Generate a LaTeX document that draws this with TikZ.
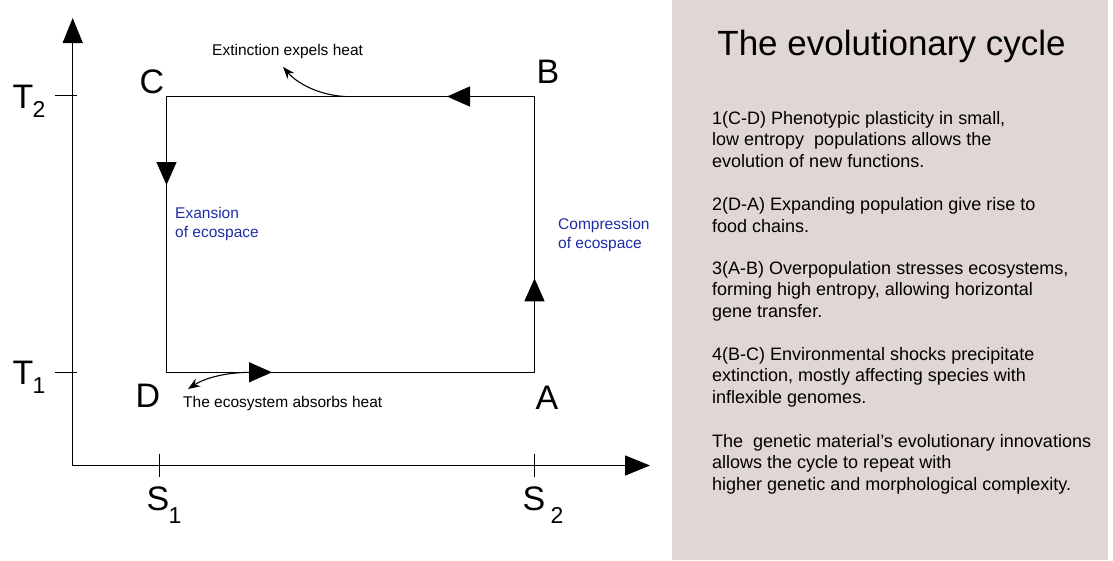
\documentclass[tikz,border=0pt]{standalone}
\usepackage{fontspec}
\setmainfont{Liberation Sans}
\usetikzlibrary{arrows.meta}
\definecolor{panel}{RGB}{224,214,211}
\definecolor{ecoblue}{RGB}{30,45,165}
\tikzset{
  axisline/.style={line width=1.3pt, -{Triangle[length=25pt,width=20pt]}},
  edgeline/.style={line width=1.3pt},
  midarrow/.style={line width=1.3pt, -{Triangle[length=23pt,width=20pt]}},
  heatarrow/.style={line width=1.1pt, -{Stealth[length=12pt,width=9pt]}},
  tickline/.style={line width=1pt},
  bigletter/.style={font=\fontsize{34}{34}\selectfont, inner sep=0pt, anchor=base},
  subletter/.style={font=\fontsize{23}{23}\selectfont, inner sep=0pt, anchor=base},
  smalllabel/.style={font=\fontsize{15.5}{19}\selectfont, inner sep=0pt, anchor=base west, align=left},
  bluelabel/.style={smalllabel, text=ecoblue},
  paratext/.style={font=\fontsize{18}{21.3}\selectfont, inner sep=0pt, anchor=base west, align=left},
}
\begin{document}
\begin{tikzpicture}[x=1pt,y=-1pt]
\useasboundingbox (0,0) rectangle (1113,560);
\fill[panel] (672,0) rectangle (1108,560);

% axes
\coordinate (O) at (72.7,465.5);
\coordinate (Ytip) at (72.7,18);
\coordinate (Xtip) at (650,465.5);
\draw[axisline] (O) -- (Ytip);
\draw[axisline] (O) -- (Xtip);

% ticks
\coordinate (t2a) at (55,95.5); \coordinate (t2b) at (77,95.5);
\coordinate (t1a) at (55,372); \coordinate (t1b) at (77,372);
\coordinate (s1a) at (159,454); \coordinate (s1b) at (159,477);
\coordinate (s2a) at (534,454); \coordinate (s2b) at (534,477);
\draw[tickline] (t2a) -- (t2b);
\draw[tickline] (t1a) -- (t1b);
\draw[tickline] (s1a) -- (s1b);
\draw[tickline] (s2a) -- (s2b);

% axis labels
\node[bigletter] (T2) at (23,108) {T};
\node[subletter] (T2s) at (39,117) {2};
\node[bigletter] (T1) at (23,384) {T};
\node[subletter] (T1s) at (39,393) {1};
\node[bigletter] (S1) at (158,510) {S};
\node[subletter] (S1s) at (175,523) {1};
\node[bigletter] (S2) at (534,510) {S};
\node[subletter] (S2s) at (557,523) {2};

% cycle
\coordinate (C) at (166.5,96.5);
\coordinate (B) at (534.5,96.5);
\coordinate (A) at (534.5,372.3);
\coordinate (D) at (166.5,372.3);
\draw[edgeline] (C) -- (B) -- (A) -- (D) -- cycle;
\draw[midarrow] (B) -- ++(-87.5,0);
\draw[midarrow] (C) -- ++(0,88.5);
\draw[midarrow] (D) -- ++(105.5,0);
\draw[midarrow] (A) -- ++(0,-94);

\node[bigletter] (Clab) at (152,93) {C};
\node[bigletter] (Blab) at (548,83) {B};
\node[bigletter] (Dlab) at (148,407) {D};
\node[bigletter] (Alab) at (547,409) {A};

% heat arrows
\coordinate (ex0) at (345,96.5);
\coordinate (ex1) at (283,67);
\draw[heatarrow] (ex0) .. controls (318,95) and (297,83) .. (ex1);
\coordinate (ab0) at (254,372.3);
\coordinate (ab1) at (188,389);
\draw[heatarrow] (ab0) .. controls (226,372) and (205,378) .. (ab1);

\node[smalllabel] (ext) at (212,55) {Extinction expels heat};
\node[smalllabel] (abs) at (183,407) {The ecosystem absorbs heat};
% anchor base = baseline of last line
\node[bluelabel] (exp) at (175,237) {Exansion\\of ecospace};
\node[bluelabel] (comp) at (558,248) {Compression\\of ecospace};

% panel text
\node[font=\fontsize{35}{35}\selectfont, inner sep=0pt, anchor=base] (title) at (891.5,55) {The evolutionary cycle};
\node[paratext] (p1) at (712,167) {1(C-D) Phenotypic plasticity in small,\\low entropy~ populations allows the\\evolution of new functions.};
\node[paratext] (p2) at (712,232) {2(D-A) Expanding population give rise to\\food chains.};
\node[paratext] (p3) at (712,317) {3(A-B) Overpopulation stresses ecosystems,\\forming high entropy, allowing horizontal\\gene transfer.};
\node[paratext] (p4) at (712,403) {4(B-C) Environmental shocks precipitate\\extinction, mostly affecting species with\\inflexible genomes.};
\node[paratext] (p5) at (712,490) {The~ genetic material’s evolutionary innovations\\allows the cycle to repeat with\\higher genetic and morphological complexity.};
\end{tikzpicture}
\end{document}
